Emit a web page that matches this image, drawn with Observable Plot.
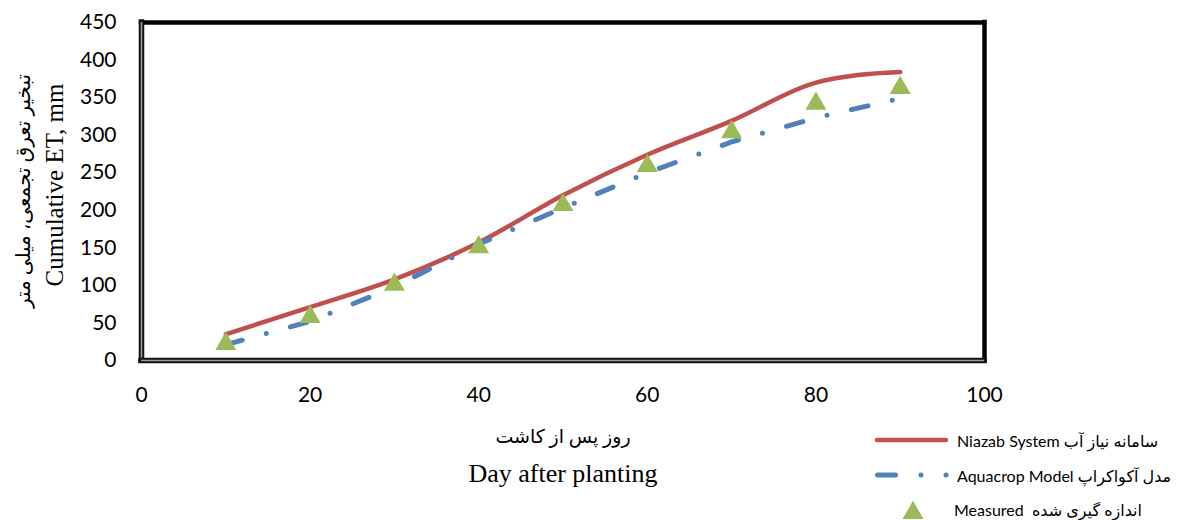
<!DOCTYPE html>
<html><head><meta charset="utf-8">
<script src="https://cdn.jsdelivr.net/npm/d3@7"></script>
<script src="https://cdn.jsdelivr.net/npm/@observablehq/plot@0.6"></script>
<style>
body{margin:0;background:#fff;}
#wrap{position:relative;width:1179px;height:520px;overflow:hidden;background:#fff;}
#wrap svg.over{position:absolute;left:0;top:0;pointer-events:none;}
</style></head><body><div id="wrap"></div>
<script>
// ---- data ----
const days = [10, 20, 30, 40, 50, 60, 70, 80, 90];
const niazabDays = [10, 20, 30, 40, 50, 60, 70, 80, 85, 90];
const niazab = [35, 71, 108, 157, 220, 274, 319, 370, 380, 384];
const aquacrop = [21, 52, 98, 155, 203, 250, 291, 323, 349];
const measured = [26, 62, 105, 155, 211, 263, 308, 346, 367];
const xTicks = [0, 20, 40, 60, 80, 100];
const yTicks = [0, 50, 100, 150, 200, 250, 300, 350, 400, 450];
const seriesLabels = [
  "Niazab System سامانه نیاز آب",
  "Aquacrop Model مدل آکواکراپ",
  "Measured  اندازه گیری شده"
];
const xTitleFa = "روز پس از کاشت";
const xTitleEn = "Day after planting";
const yTitleFa = "تبخیر تعرق تجمعی، میلی متر";
const yTitleEn = "Cumulative ET, mm";

const colors = {niazab: "#C0504D", aquacrop: "#4F81BD", measured: "#9BBB59"};
const dash = "17,25,0,25";

const rows = days.map((d, i) => ({day: d, aquacrop: aquacrop[i], measured: measured[i]}));
const redRows = niazabDays.map((d, i) => ({day: d, niazab: niazab[i]}));

const W = 1179, H = 520;
const chart = Plot.plot({
  width: W, height: H,
  marginLeft: 141, marginRight: 195, marginTop: 22, marginBottom: 160,
  style: {fontFamily: "Lato, 'DejaVu Sans', sans-serif", fontSize: "21px", color: "#000", background: "#fff", overflow: "visible"},
  x: {domain: [0, 100], label: null},
  y: {domain: [0, 450], label: null},
  marks: [
    Plot.axisX({ticks: xTicks, tickSize: 0, tickPadding: 27, label: null, fontSize: 21}),
    Plot.axisY({ticks: yTicks, tickSize: 0, tickPadding: 25, label: null, fontSize: 21}),
    Plot.line(redRows, {x: "day", y: "niazab", stroke: colors.niazab, strokeWidth: 4.5, curve: "monotone-x", strokeLinecap: "round"}),
    Plot.line(rows, {x: "day", y: "aquacrop", stroke: colors.aquacrop, strokeWidth: 5, strokeDasharray: dash, strokeLinecap: "round"}),
    Plot.dot(rows, {x: "day", y: "measured", symbol: "triangle", r: 7.8, fill: colors.measured, stroke: "none", dy: 3}),
    // frame: thick black top/right, double line left/bottom
    Plot.ruleY([450], {stroke: "#000", strokeWidth: 4.5, strokeLinecap: "square"}),
    Plot.ruleX([100], {stroke: "#000", strokeWidth: 4.5, strokeLinecap: "square"}),
    Plot.ruleX([0], {stroke: "#111", strokeWidth: 5.5, strokeLinecap: "square"}),
    Plot.ruleX([0], {stroke: "#9a9a9a", strokeWidth: 1.6}),
    Plot.ruleY([0], {stroke: "#111", strokeWidth: 5.5, strokeLinecap: "square"}),
    Plot.ruleY([0], {stroke: "#9a9a9a", strokeWidth: 1.6})
  ]
});
const wrap = document.getElementById("wrap");
wrap.appendChild(chart);

// ---- titles & legend overlay ----
const svg = d3.select(wrap).append("svg").attr("class", "over")
  .attr("width", W).attr("height", H);
const serif = "'Liberation Serif', 'Times New Roman', 'DejaVu Sans', serif";
const sans = "Lato, 'DejaVu Sans', sans-serif";

svg.append("text").attr("x", 563).attr("y", 443).attr("text-anchor", "middle")
  .attr("font-family", serif).attr("font-size", 19).text(xTitleFa);
svg.append("text").attr("x", 563).attr("y", 482).attr("text-anchor", "middle")
  .attr("font-family", serif).attr("font-size", 26).text(xTitleEn);
svg.append("text").attr("transform", "translate(63,185) rotate(-90)").attr("text-anchor", "middle")
  .attr("font-family", serif).attr("font-size", 25).text(yTitleEn);
svg.append("text").attr("transform", "translate(30,191) rotate(-90)").attr("text-anchor", "middle")
  .attr("font-family", serif).attr("font-size", 20).text(yTitleFa);

// legend
const lg = svg.append("g");
lg.append("line").attr("x1", 877).attr("x2", 946).attr("y1", 440).attr("y2", 440)
  .attr("stroke", colors.niazab).attr("stroke-width", 4.5).attr("stroke-linecap", "round");
lg.append("line").attr("x1", 877.5).attr("x2", 895.5).attr("y1", 475).attr("y2", 475)
  .attr("stroke", colors.aquacrop).attr("stroke-width", 5).attr("stroke-linecap", "round");
[921, 946].forEach(cx => lg.append("circle").attr("cx", cx).attr("cy", 475).attr("r", 2.5).attr("fill", colors.aquacrop));
lg.append("path").attr("transform", "translate(913,513)")
  .attr("d", d3.symbol(d3.symbolTriangle, Math.PI * 7.8 * 7.8)())
  .attr("fill", colors.measured);
const ly = [446.5, 481.5, 515.5];
const lx = [957, 957, 954];
seriesLabels.forEach((t, i) => {
  lg.append("text").attr("x", lx[i]).attr("y", ly[i]).attr("font-family", sans)
    .attr("font-size", 16).attr("xml:space", "preserve").style("white-space", "pre").text(t);
});
</script></body></html>
